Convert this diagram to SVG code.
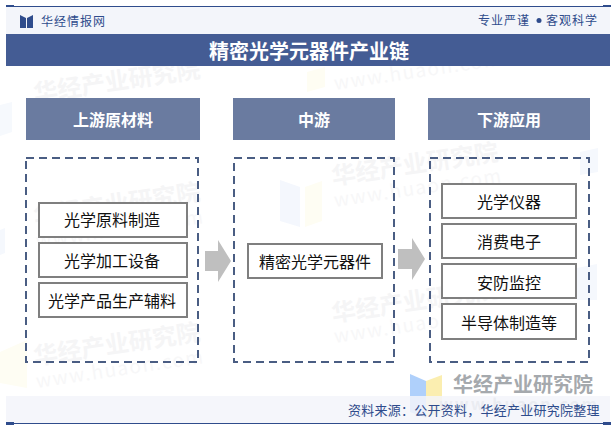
<svg xmlns="http://www.w3.org/2000/svg" width="614" height="430" viewBox="0 0 614 430">
<style>
text{font-family:"Noto Sans CJK SC","Liberation Sans",sans-serif;text-anchor:middle}
.ttl{font-weight:700;fill:#fff;font-size:20px}
.sub{font-weight:700;fill:#fff;font-size:16px}
.hd{fill:#6a7ba0}
.dash{fill:none;stroke:#4a5d83;stroke-width:2;stroke-dasharray:8 5}
.box{fill:#fff;stroke:#7f7f7f;stroke-width:2}
.lb{font-size:16px;fill:#111}
.arrow{fill:#bfbfbf}
.wm{font-weight:700;font-size:24px;fill:#f5f5f6;text-anchor:start}
.wu{font-size:19px;fill:#f7f7f8;text-anchor:start;letter-spacing:1.5px}
.nav{font-size:12px;fill:#2f4c8c;letter-spacing:1px}
</style>
<rect width="614" height="430" fill="#fff"/>
<g id="watermarks">
<text class="wm" transform="translate(35 102) rotate(-8.5)">华经产业研究院</text>
<text class="wm" transform="translate(35 225) rotate(-8.5)">华经产业研究院</text>
<text class="wu" transform="translate(37 248) rotate(-8.5)">www.huaon.com</text>
<text class="wm" transform="translate(35 365) rotate(-8.5)">华经产业研究院</text>
<text class="wu" transform="translate(37 388) rotate(-8.5)">www.huaon.com</text>
<text class="wu" transform="translate(335 90) rotate(-8.5)">www.huaon.com</text>
<text class="wm" transform="translate(333 185) rotate(-8.5)">华经产业研究院</text>
<text class="wu" transform="translate(335 207) rotate(-8.5)">www.huaon.com</text>
<text class="wm" transform="translate(333 322) rotate(-8.5)">华经产业研究院</text>
<text class="wu" transform="translate(335 343) rotate(-8.5)">www.huaon.com</text>
<path d="M280 180l20 7v40l-20-6z" fill="#f4f7fd"/><path d="M305 187l17-6v40l-17 6z" fill="#fefdf3"/>
<path d="M0 105l12-3v30l-12 4z" fill="#f6f9fd"/><path d="M0 230l5-2v25l-5 2z" fill="#f5f8fd"/>
<path d="M0 352l27-12v48l-27 -5z" fill="#fefdf3"/>
<path d="M307 72l18-5v20l-18 5z" fill="#fefdf3"/>
<path d="M580 152l18-4v24l-18 3z" fill="#f5f8fd"/>
<path d="M577 268l20-4v36l-20 0z" fill="#f5f8fd"/>
</g>
<g id="header">
<rect x="6" y="7" width="604" height="27" fill="#f3f5fa"/>
<rect x="6" y="6" width="604" height="1" fill="#2f4c8c"/>
<rect x="6" y="5" width="8" height="2" fill="#2f4c8c"/><rect x="603" y="5" width="8" height="2" fill="#2f4c8c"/>
<path d="M20 15l6 3v10l-6 0zM33 15l-6 3v10l6 0z" fill="#2f4c8c"/>
<text class="nav" x="73.500" y="26">华经情报网</text>
<text class="nav" x="504" y="25">专业严谨</text>
<circle cx="539" cy="20.500" r="2.500" fill="#2f4c8c"/>
<text class="nav" x="572" y="25">客观科学</text>
<rect x="6" y="34" width="604" height="32" fill="#445c94"/>
<text class="ttl" x="309" y="59">精密光学元器件产业链</text>
</g>
<g id="upstream">
<rect class="hd" x="26" y="98" width="174" height="42"/>
<text class="sub" x="113" y="126">上游原材料</text>
<rect class="dash" x="26" y="158" width="172" height="204"/>
<rect class="box" x="39" y="203" width="148" height="34"/><text class="lb" x="112" y="226">光学原料制造</text>
<rect class="box" x="39" y="243" width="148" height="34"/><text class="lb" x="112" y="267">光学加工设备</text>
<rect class="box" x="39" y="283" width="148" height="34"/><text class="lb" x="112" y="307">光学产品生产辅料</text>
</g>
<g id="midstream">
<rect class="hd" x="233" y="98" width="162" height="42"/>
<text class="sub" x="314" y="126">中游</text>
<rect class="dash" x="234" y="158" width="160" height="204"/>
<rect class="box" x="248" y="244" width="134" height="34"/><text class="lb" x="315" y="268">精密光学元器件</text>
</g>
<g id="downstream">
<rect class="hd" x="428" y="98" width="162" height="42"/>
<text class="sub" x="509" y="126">下游应用</text>
<rect class="dash" x="430" y="158" width="159" height="204"/>
<rect class="box" x="442" y="184" width="134" height="34"/><text class="lb" x="509" y="208">光学仪器</text>
<rect class="box" x="442" y="224" width="134" height="34"/><text class="lb" x="509" y="248">消费电子</text>
<rect class="box" x="442" y="264" width="134" height="34"/><text class="lb" x="509" y="289">安防监控</text>
<rect class="box" x="442" y="304" width="134" height="35"/><text class="lb" x="509" y="329">半导体制造等</text>
</g>
<g id="connectors">
<path class="arrow" d="M205 251h13v-11l13 21-13 21v-11h-13z"/>
<path class="arrow" d="M398 249h14v-11l13 21-13 21v-11h-14z"/>
</g>
<g id="footer">
<path d="M410 374l16 7v37l-16-6z" fill="#afd0fb"/><path d="M426 381l16-6v37l-16 6z" fill="#fbeeb0"/>
<text x="523" y="392" style="font-weight:700;font-size:20px;fill:#a5a9ad">华经产业研究院</text>
<text x="519" y="410" style="font-weight:700;font-size:16px;fill:#b5b8bc;letter-spacing:2px">www.huaon.com</text>
<rect x="6" y="396" width="604" height="27" fill="#f3f5fa" fill-opacity=".85"/>
<rect x="6" y="423" width="604" height="1" fill="#2f4c8c"/>
<rect x="6" y="422" width="8" height="3" fill="#2f4c8c"/><rect x="603" y="422" width="8" height="3" fill="#2f4c8c"/>
<text x="474" y="415" style="font-size:13px;fill:#2f4c8c;letter-spacing:.25px">资料来源：公开资料，华经产业研究院整理</text>
</g>
</svg>
